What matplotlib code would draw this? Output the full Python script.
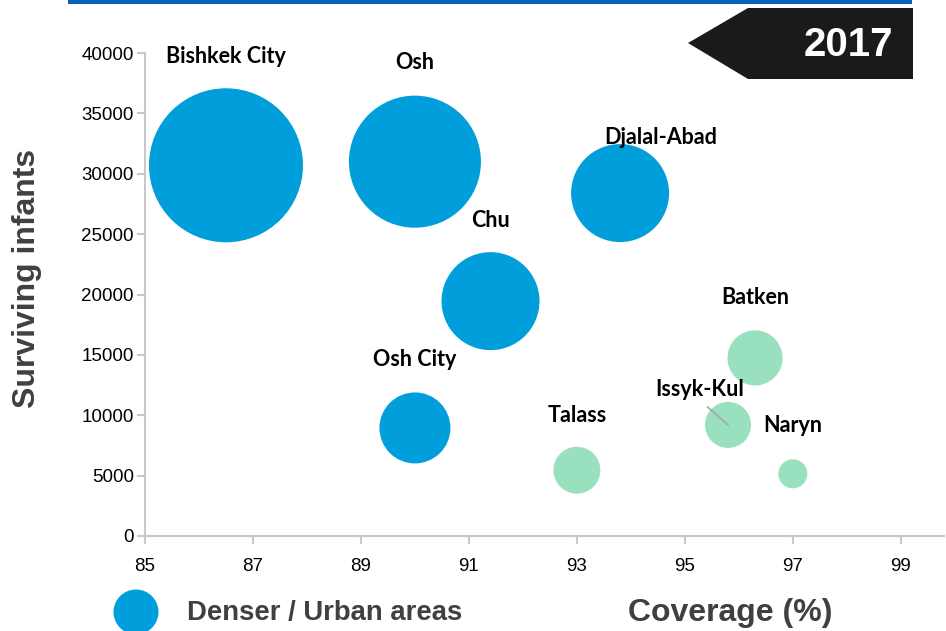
import matplotlib
matplotlib.use('Agg')
import matplotlib.pyplot as plt
from matplotlib.patches import Polygon, Ellipse, Rectangle

# regions of Kyrgyzstan, 2017
regions = ['Bishkek City', 'Osh', 'Djalal-Abad', 'Chu', 'Osh City',
           'Talass', 'Batken', 'Issyk-Kul', 'Naryn']
coverage = [86.5, 90.0, 93.8, 91.4, 90.0, 93.0, 96.3, 95.8, 97.0]
infants = [30700, 31000, 28400, 19450, 8950, 5450, 14750, 9200, 5150]
bubble_size = [5930, 4360, 2400, 2400, 1260, 550, 760, 530, 210]
urban = [True, True, True, True, True, False, False, False, False]

BLUE = '#009FDB'
GREEN = '#98E0BE'
DARK = '#404040'
W, H = 946, 631

# label offsets in pixels from bubble centre (dx, dy)
label_offsets = [(0, 109), (0, 99), (41, 56), (0, 81), (0, 68),
                 (0, 55), (0, 60), (-28, 35), (0, 48)]

fig = plt.figure(figsize=(W / 100, H / 100), dpi=100)
ax = fig.add_axes([145 / W, 1 - 536 / H, (944 - 145) / W, (536 - 53) / H])

colors = [BLUE if u else GREEN for u in urban]
sizes = [b * (2 * 0.72) ** 2 for b in bubble_size]
ax.scatter(coverage, infants, s=sizes, c=colors, linewidths=0, clip_on=False, zorder=3)

for name, x, y, (dx, dy) in zip(regions, coverage, infants, label_offsets):
    arrow = None
    if name == 'Issyk-Kul':
        arrow = dict(arrowstyle='-', color='#A6A6A6', lw=1.2,
                     shrinkA=4, shrinkB=0, relpos=(0.5, 0))
    ax.annotate(name, xy=(x, y), xytext=(dx * 0.72, dy * 0.72),
                textcoords='offset points', ha='center', va='center',
                fontsize=15.5, fontweight='bold', family='Lato', color='black',
                arrowprops=arrow, zorder=4)

ax.set_xlim(85, 99.8)
ax.set_ylim(0, 40000)
ax.set_xticks(range(85, 100, 2))
ax.set_yticks(range(0, 40001, 5000))
for s in ['top', 'right']:
    ax.spines[s].set_visible(False)
for s in ['left', 'bottom']:
    ax.spines[s].set_color('#C8C8C8')
    ax.spines[s].set_linewidth(1.5)
ax.tick_params(axis='both', colors='#C8C8C8', width=1.5, length=6,
               labelcolor='black', labelsize=13.5)
ax.tick_params(axis='x', pad=10)
ax.tick_params(axis='y', pad=2)
for lab in ax.get_xticklabels() + ax.get_yticklabels():
    lab.set_family('Liberation Sans')

ax.set_ylabel('Surviving infants', fontsize=23, fontweight='bold', color=DARK,
              family='Liberation Sans')
ax.yaxis.set_label_coords(-(145 - 42) / (944 - 145), (536 - 278) / (536 - 53))

# top blue rule
fig.add_artist(Rectangle((68 / W, 1 - 4 / H), (912 - 68) / W, 4 / H,
                         transform=fig.transFigure, color='#0A5FBF', lw=0))

# year tag
tag = [(688, 43), (748, 8), (913, 8), (913, 79), (748, 79)]
fig.add_artist(Polygon([(x / W, 1 - y / H) for x, y in tag], closed=True,
                       transform=fig.transFigure, color='#1A1A1A', lw=0))
fig.text(848 / W, 1 - 45 / H, '2017', ha='center', va='center', color='white',
         fontsize=29, fontweight='bold', family='Liberation Sans')

# legend and x title at the bottom
fig.add_artist(Ellipse((136 / W, 1 - 612 / H), 45 / W, 45 / H,
                       transform=fig.transFigure, color=BLUE, lw=0))
fig.text(187 / W, 1 - 613 / H, 'Denser / Urban areas', ha='left', va='center',
         fontsize=19.8, fontweight='bold', color=DARK, family='Liberation Sans')
fig.text(730 / W, 1 - 613 / H, 'Coverage (%)', ha='center', va='center',
         fontsize=23, fontweight='bold', color=DARK, family='Liberation Sans')

fig.savefig('out.png', dpi=100)
